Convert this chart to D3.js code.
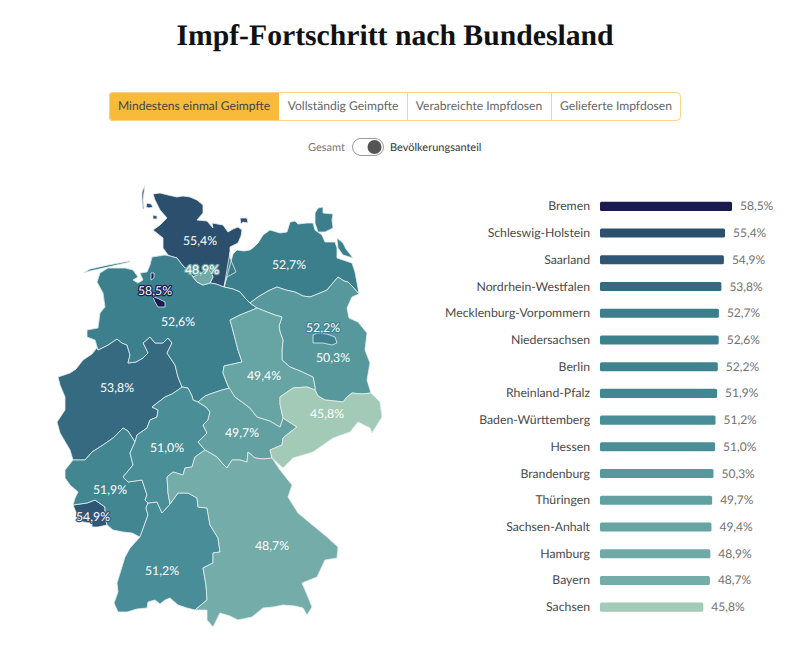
<!DOCTYPE html>
<html>
  <head>
    <meta charset="utf-8">
    <script src="https://d3js.org/d3.v7.min.js"></script>
    <style>
      html, body { margin: 0; background: #fff; }
      svg { display: block; text-rendering: geometricPrecision; }
      text { font-family: Lato, "Noto Sans", sans-serif; }
      .title { font-family: "Liberation Serif", serif; font-weight: 700; font-size: 29.7px; fill: #111; }
      .tab { font-size: 12.1px; fill: #666; }
      .tab.active { fill: #444; }
      .state { stroke: #e4eeee; stroke-width: 0.8; stroke-linejoin: round; }
      .map-label { font-size: 12.3px; fill: #fff; text-anchor: middle; paint-order: stroke; stroke-width: 2.5; stroke-linejoin: round; }
      .bar-name { font-size: 12.25px; fill: #4a4a4a; text-anchor: end; }
      .bar-value { font-size: 12px; fill: #707070; }
    </style>
  </head>
  <body>
    <script>

      const width = 800;
      const height = 646;

      const states = ['Bremen', 'Schleswig-Holstein', 'Saarland', 'Nordrhein-Westfalen', 'Mecklenburg-Vorpommern',
        'Niedersachsen', 'Berlin', 'Rheinland-Pfalz', 'Baden-Württemberg', 'Hessen', 'Brandenburg', 'Thüringen',
        'Sachsen-Anhalt', 'Hamburg', 'Bayern', 'Sachsen'];
      const values = [58.5, 55.4, 54.9, 53.8, 52.7, 52.6, 52.2, 51.9, 51.2, 51.0, 50.3, 49.7, 49.4, 48.9, 48.7, 45.8];

      const tabs = ['Mindestens einmal Geimpfte', 'Vollständig Geimpfte', 'Verabreichte Impfdosen', 'Gelieferte Impfdosen'];
      const toggleLabels = ['Gesamt', 'Bevölkerungsanteil'];

      const colorStops = [45.8, 48.7, 49.7, 51.0, 52.7, 54.9, 55.4, 58.5];
      const colorRange = ['#a2cab6', '#73aca8', '#62a0a2', '#4a8f98', '#3b7e8c', '#2f5675', '#2c4f6e', '#1b1b50'];

      // traced outlines in map units, borders are shared between neighbours
      const arcs = {
        shMvCoast: [[224,287],[227,277],[236,272],[233,265],[230,258],[230,252]],
        shEast: [[230,252],[230,247],[238,243],[241,236],[242,230],[238,227],[233,229],[228,232],[223,225],[212,223],[213,228],[207,221],[197,220],[203,213],[203,205],[197,200],[190,197],[183,196],[177,197],[168,195],[160,193],[153,194],[155,200],[160,210],[167,218],[160,225],[153,230],[158,234],[163,238],[163,248],[168,255],[170,256]],
        shNi: [[170,256],[177,258],[183,266],[190,272],[193,277]],
        hhNorth: [[193,277],[203,272],[208,267],[213,277],[210,283]],
        hhSouth: [[210,283],[203,285],[197,282],[193,277]],
        shNiEast: [[210,283],[216,284],[224,287]],
        niMv: [[224,287],[233,289],[240,292],[245,298],[250,303]],
        niBb: [[250,303],[257,308]],
        mvBb: [[250,303],[258,297],[268,291],[277,287],[286,290],[295,292],[303,296],[310,297],[320,293],[327,290],[332,284],[338,277],[344,281],[348,282],[352,286],[359,294]],
        mvCoast: [[230,252],[233,254],[237,250],[244,251],[250,250],[254,247],[258,243],[263,235],[270,230],[280,233],[287,232],[290,222],[295,221],[298,224],[307,223],[313,223],[315,230],[322,235],[325,242],[335,242],[337,248],[337,258],[343,260],[352,263],[355,272],[358,288],[359,294]],
        bbEast: [[359,294],[352,297],[347,308],[349,318],[358,322],[367,333],[365,350],[370,363],[367,380],[371,393]],
        bbSn: [[315,390],[318,396],[325,400],[335,401],[343,402],[347,397],[352,393],[362,394],[371,393]],
        stBb: [[257,308],[267,312],[275,315],[282,317],[279,326],[280,332],[283,340],[282,350],[282,360],[290,367],[300,371],[313,377],[315,387],[315,390]],
        stSn: [[315,390],[307,387],[293,388],[280,397],[280,404],[283,418]],
        niSt: [[235,397],[228,386],[223,373],[224,366],[242,362],[238,350],[232,327],[230,320],[240,315],[250,311],[257,308]],
        stTh: [[235,397],[242,402],[250,408],[257,417],[270,421],[280,427],[283,418]],
        thSn: [[283,418],[297,427],[289,433],[283,438],[282,445],[270,450],[272,458]],
        niTh: [[198,402],[205,396],[213,393],[222,390],[230,388],[235,397]],
        niHe: [[182,387],[188,388],[192,396],[193,400],[198,402]],
        heTh: [[198,402],[206,407],[210,412],[208,420],[203,425],[207,433],[198,442],[205,450]],
        thBy: [[205,450],[217,457],[222,463],[227,468],[232,460],[240,460],[247,462],[248,452],[255,458],[263,459],[272,458]],
        heBy: [[205,450],[195,457],[192,467],[185,468],[183,475],[173,472],[167,477],[168,493],[170,504]],
        heBw: [[148,503],[157,502],[162,513],[170,504]],
        heRp: [[135,442],[130,453],[133,465],[123,477],[128,482],[142,480],[147,495],[145,500],[148,503]],
        nrwHe: [[135,442],[137,435],[147,428],[150,420],[157,417],[158,410],[152,407],[165,397],[172,394],[178,390],[182,387]],
        niNrw: [[98,350],[108,345],[117,339],[122,343],[127,345],[130,355],[128,363],[136,362],[143,358],[148,353],[143,343],[150,337],[155,343],[163,343],[168,338],[172,343],[167,353],[175,365],[178,377],[182,387]],
        niWest: [[170,256],[165,255],[152,257],[150,265],[147,272],[140,273],[143,280],[138,283],[133,280],[138,277],[133,270],[125,268],[108,268],[100,273],[97,282],[103,293],[105,307],[100,313],[98,328],[87,330],[87,337],[95,340],[98,350]],
        nrwWest: [[98,350],[92,354],[83,360],[76,369],[70,373],[58,377],[60,385],[65,397],[65,410],[57,422],[60,433],[70,450],[73,460]],
        nrwRp: [[73,460],[85,460],[92,452],[103,445],[113,438],[123,428],[128,431],[135,442]],
        rpWest: [[73,460],[65,470],[65,478],[70,485],[78,492],[75,498],[73,505]],
        rpSl: [[73,505],[87,503],[95,500],[105,507],[105,517],[107,525]],
        slSouth: [[73,505],[78,517],[83,522],[92,523],[92,527],[98,527],[107,525]],
        rpSouth: [[107,525],[113,530],[123,532],[132,533],[140,537]],
        rpBw: [[140,537],[148,515],[146,508],[148,503]],
        bwBy: [[170,504],[178,493],[188,493],[197,498],[198,507],[207,508],[210,525],[218,538],[220,552],[213,553],[213,563],[203,568],[206,585],[207,600],[195,610]],
        bwSouth: [[195,610],[187,608],[178,605],[170,598],[165,600],[160,604],[155,600],[148,602],[147,608],[137,609],[127,612],[118,612],[114,603],[118,592],[117,583],[125,557],[130,548],[140,537]],
        byEast: [[195,610],[207,610],[207,620],[213,627],[220,613],[230,616],[238,620],[252,617],[263,608],[273,607],[283,605],[295,606],[303,608],[307,615],[312,607],[308,597],[302,583],[317,577],[325,560],[337,558],[338,547],[327,537],[310,523],[298,513],[288,497],[292,485],[280,470],[272,458]],
        snEast: [[272,458],[283,468],[293,458],[313,452],[333,438],[350,432],[358,422],[370,428],[372,433],[382,417],[380,402],[371,393]]
      };

      const islands = {
        'Schleswig-Holstein': [
          [[240,218],[247,218],[248,223],[243,222],[241,224]],
          [[145,185],[142,192],[142,200],[143,209],[144,209],[143,200],[144,192]],
          [[147,203],[151,204],[153,207],[149,208],[146,207]],
          [[153,215],[157,216],[157,219],[153,219]]
        ],
        'Mecklenburg-Vorpommern': [
          [[318,208],[323,207],[323,213],[333,214],[332,220],[333,228],[325,232],[318,232],[315,223],[315,213]],
          [[337,238],[343,243],[346,249],[353,258],[343,255],[338,248]]
        ],
        'Niedersachsen': [
          [[83,273],[90,269],[108,265],[130,261],[130,262],[108,267],[90,271]]
        ],
        'Bremen': [
          [[151,273],[154,273],[154,278],[151,280]]
        ]
      };

      const rings = {
        'Schleswig-Holstein': ['shEast', 'shNi', 'hhNorth', 'shNiEast', 'shMvCoast'],
        'Hamburg': ['hhNorth', 'hhSouth'],
        'Mecklenburg-Vorpommern': ['-shMvCoast', 'mvCoast', '-mvBb', '-niMv'],
        'Brandenburg': ['mvBb', 'bbEast', '-bbSn', '-stBb', '-niBb'],
        'Sachsen-Anhalt': ['niSt', 'stBb', 'stSn', '-stTh'],
        'Sachsen': ['stSn', 'thSn', 'snEast', '-bbSn'],
        'Thüringen': ['niTh', 'stTh', 'thSn', '-thBy', '-heTh'],
        'Hessen': ['-nrwHe', 'heRp', 'heBw', '-heBy', '-heTh', '-niHe'],
        'Nordrhein-Westfalen': ['-niNrw', '-niWest', 'nrwWest', 'nrwRp', 'nrwHe'],
        'Niedersachsen': ['niWest', 'niNrw', 'niHe', 'niTh', 'niSt', '-niBb', '-niMv', '-shNiEast', 'hhSouth', '-shNi'],
        'Rheinland-Pfalz': ['-nrwRp', 'rpWest', 'rpSl', 'rpSouth', 'rpBw', '-heRp'],
        'Saarland': ['rpSl', '-slSouth'],
        'Baden-Württemberg': ['heBw', 'bwBy', 'bwSouth', 'rpBw'],
        'Bayern': ['heBy', 'bwBy', 'byEast', '-thBy'],
        'Berlin': null,
        'Bremen': null
      };

      // enclaves drawn on top of the surrounding state
      const enclaves = {
        'Berlin': [[313,335],[317,333],[327,334],[335,337],[337,343],[332,345],[323,343],[313,343]],
        'Bremen': [[153,297],[157,298],[165,302],[165,307],[158,307],[155,302]]
      };

      const labelAt = {
        'Bremen': [155,291], 'Schleswig-Holstein': [200,241], 'Saarland': [93,517], 'Nordrhein-Westfalen': [117,388],
        'Mecklenburg-Vorpommern': [289,265], 'Niedersachsen': [178,322], 'Berlin': [323,328], 'Rheinland-Pfalz': [110,490],
        'Baden-Württemberg': [162,571], 'Hessen': [167,448], 'Brandenburg': [333,358], 'Thüringen': [242,433],
        'Sachsen-Anhalt': [264,376], 'Hamburg': [202,270], 'Bayern': [272,546], 'Sachsen': [327,414]
      };

      function ringOf(list) {
        const out = [];
        list.forEach(name => {
          const rev = name[0] === '-';
          const pts = arcs[rev ? name.slice(1) : name].slice();
          if (rev) pts.reverse();
          out.push(...(out.length ? pts.slice(1) : pts));
        });
        return out;
      }

      const color = d3.scaleLinear().domain(colorStops).range(colorRange);
      const format = d3.formatLocale({ decimal: ',', thousands: '.', grouping: [3], currency: ['', '€'] }).format('.1f');
      const valueOf = new Map(states.map((s, i) => [s, values[i]]));

      const svg = d3.select('body').append('svg').attr('width', width).attr('height', height);

      svg.append('text').attr('class', 'title')
        .attr('x', 395).attr('y', 45).attr('text-anchor', 'middle')
        .text('Impf-Fortschritt nach Bundesland');

      // tab bar
      const tabEdges = [109, 279, 407, 551, 681];
      const tabBar = svg.append('g');
      tabBar.append('path')
        .attr('d', 'M113,92H279V121H113a4,4 0 0 1 -4,-4V96a4,4 0 0 1 4,-4Z')
        .attr('fill', '#f7bb39');
      tabBar.append('rect')
        .attr('x', 109.5).attr('y', 92.5).attr('width', 571).attr('height', 28).attr('rx', 4)
        .attr('fill', 'none').attr('stroke', '#f9d486');
      tabBar.selectAll('.divider').data(tabEdges.slice(2, 4)).enter().append('line')
        .attr('x1', d => d + 0.5).attr('x2', d => d + 0.5).attr('y1', 92).attr('y2', 121)
        .attr('stroke', '#f9d486');
      tabBar.selectAll('.tab').data(tabs).enter().append('text')
        .attr('class', (d, i) => i === 0 ? 'tab active' : 'tab')
        .attr('x', (d, i) => (tabEdges[i] + tabEdges[i + 1]) / 2).attr('y', 110)
        .attr('text-anchor', 'middle')
        .text(d => d);

      // toggle
      svg.append('text').attr('x', 345).attr('y', 150.5).attr('text-anchor', 'end')
        .attr('font-size', 11).attr('fill', '#777').text(toggleLabels[0]);
      svg.append('rect').attr('x', 352.5).attr('y', 138.5).attr('width', 31).attr('height', 17).attr('rx', 8.5)
        .attr('fill', '#fff').attr('stroke', '#999');
      svg.append('circle').attr('cx', 374.5).attr('cy', 147).attr('r', 7).attr('fill', '#555');
      svg.append('text').attr('x', 390).attr('y', 150.5)
        .attr('font-size', 11).attr('fill', '#333').text(toggleLabels[1]);

      // map
      const projection = d3.geoIdentity();
      const path = d3.geoPath(projection);
      const closed = r => r.concat([r[0]]);

      const features = states.filter(s => rings[s]).map(s => ({
        type: 'Feature',
        properties: { name: s },
        geometry: { type: 'MultiPolygon', coordinates: [[closed(ringOf(rings[s]))]].concat((islands[s] || []).map(r => [closed(r)])) }
      }));
      Object.keys(enclaves).forEach(s => features.push({
        type: 'Feature',
        properties: { name: s },
        geometry: { type: 'MultiPolygon', coordinates: [[closed(enclaves[s])]].concat((islands[s] || []).map(r => [closed(r)])) }
      }));

      svg.append('g').selectAll('path').data(features).enter().append('path')
        .attr('class', 'state')
        .attr('d', path)
        .attr('fill', d => color(valueOf.get(d.properties.name)));

      svg.append('g').selectAll('text').data(states).enter().append('text')
        .attr('class', 'map-label')
        .attr('x', d => projection(labelAt[d])[0])
        .attr('y', d => projection(labelAt[d])[1] + 4)
        .attr('stroke', d => color(valueOf.get(d)))
        .text(d => format(valueOf.get(d)) + '%');

      // bars
      const x = d3.scaleLinear().domain([0, 58.5]).range([600, 732]);
      const y = d3.scaleBand().domain(states).range([193, 620.5]).paddingInner(0.66).paddingOuter(0.33);

      const rows = svg.append('g').selectAll('g').data(states).enter().append('g');
      rows.append('rect')
        .attr('x', x(0))
        .attr('y', d => y(d))
        .attr('width', d => x(valueOf.get(d)) - x(0))
        .attr('height', y.bandwidth())
        .attr('rx', 1.5)
        .attr('fill', d => color(valueOf.get(d)));
      rows.append('text').attr('class', 'bar-name')
        .attr('x', 590)
        .attr('y', d => y(d) + y.bandwidth() / 2 + 4)
        .text(d => d);
      rows.append('text').attr('class', 'bar-value')
        .attr('x', d => x(valueOf.get(d)) + 8)
        .attr('y', d => y(d) + y.bandwidth() / 2 + 4)
        .text(d => format(valueOf.get(d)) + '%');

    </script>
  </body>
</html>
